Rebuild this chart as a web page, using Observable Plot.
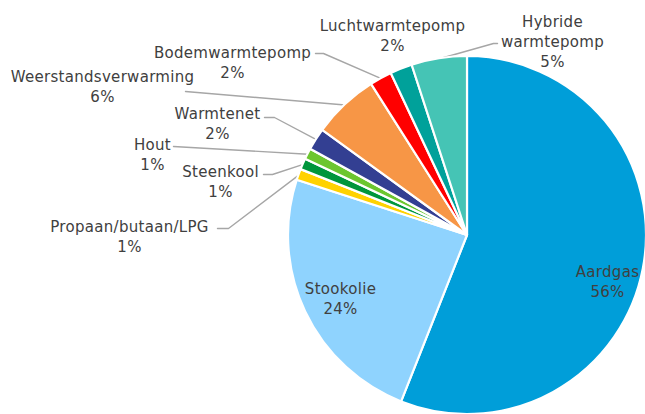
<!DOCTYPE html>
<html>
<head>
<meta charset="utf-8">
<script src="https://cdn.jsdelivr.net/npm/d3@7"></script>
<script src="https://cdn.jsdelivr.net/npm/@observablehq/plot@0.6"></script>
<style>
  html, body { margin: 0; padding: 0; background: #fff; }
  #chart svg { display: block; }
</style>
</head>
<body>
<div id="chart"></div>
<script>
// ---- data ----
const categories = ["Aardgas", "Stookolie", "Propaan/butaan/LPG", "Steenkool", "Hout", "Warmtenet",
  "Weerstandsverwarming", "Bodemwarmtepomp", "Luchtwarmtepomp", "Hybride warmtepomp"];
const shares = [56, 24, 1, 1, 1, 2, 6, 2, 2, 5];
const labelNames = ["Aardgas", "Stookolie", "Propaan/butaan/LPG", "Steenkool", "Hout", "Warmtenet",
  "Weerstandsverwarming", "Bodemwarmtepomp", "Luchtwarmtepomp", "Hybride\nwarmtepomp"];
const colors = ["#009ed9", "#8fd3fe", "#ffd200", "#00963c", "#6cc62f", "#333f92",
  "#f79646", "#ff0000", "#00a19a", "#45c4b5"];

// ---- layout (pixel space) ----
const W = 645, H = 414;
const center = [467, 235];
const radius = 179;
// label block centres
const labelPos = {
  "Aardgas": [607, 280],
  "Stookolie": [340, 297],
  "Propaan/butaan/LPG": [129, 235],
  "Steenkool": [220, 180],
  "Hout": [152, 153],
  "Warmtenet": [217, 122],
  "Weerstandsverwarming": [102, 85],
  "Bodemwarmtepomp": [232, 61],
  "Luchtwarmtepomp": [392, 34],
  "Hybride warmtepomp": [552, 40]
};
// leader start points on label side (polyline before reaching the slice)
const leaderStart = {
  "Propaan/butaan/LPG": [[217, 228], [228, 228]],
  "Steenkool": [[263, 174], [272, 174]],
  "Hout": [[173, 146]],
  "Warmtenet": [[264, 117], [274, 117]],
  "Weerstandsverwarming": [[185, 91]],
  "Bodemwarmtepomp": [[315, 53], [323, 53]],
  "Hybride warmtepomp": [[497, 43], [493, 43]]
};

const rows = categories.map((c, i) => ({name: c, label: labelNames[i], value: shares[i], color: colors[i]}));
const arcs = d3.pie().sort(null).value(d => d.value)(rows);

// leader rows
const leaderRows = [];
arcs.forEach(a => {
  const s = leaderStart[a.data.name];
  if (!s) return;
  const mid = (a.startAngle + a.endAngle) / 2;
  const end = [center[0] + radius * Math.sin(mid), center[1] - radius * Math.cos(mid)];
  [...s, end].forEach((p, k) => leaderRows.push({name: a.data.name, x: p[0], y: p[1], k}));
});

const labelRows = rows.map(r => ({
  text: r.label + "\n" + r.value + "%",
  x: labelPos[r.name][0],
  y: labelPos[r.name][1]
}));

const pieMark = (index, scales) => {
  const g = d3.create("svg:g");
  const cx = scales.x(center[0]), cy = scales.y(center[1]);
  const r = scales.x(center[0] + radius) - cx;
  const arc = d3.arc().innerRadius(0).outerRadius(r);
  g.attr("transform", `translate(${cx},${cy})`)
    .selectAll("path").data(arcs).join("path")
    .attr("d", arc)
    .attr("fill", d => d.data.color)
    .attr("stroke", "#fff")
    .attr("stroke-width", 2.2)
    .attr("stroke-linejoin", "round");
  return g.node();
};

const chart = Plot.plot({
  width: W,
  height: H,
  margin: 0,
  x: {domain: [0, W], range: [0, W], axis: null},
  y: {domain: [0, H], range: [0, H], axis: null},
  style: {fontFamily: "DejaVu Sans, sans-serif", background: "#fff", letterSpacing: "0.3px"},
  marks: [
    Plot.line(leaderRows, {x: "x", y: "y", z: "name", stroke: "#a6a6a6", strokeWidth: 1.4}),
    pieMark,
    Plot.text(labelRows, {x: "x", y: "y", text: "text", fill: "#404040", fontSize: 15,
      lineHeight: 1.35, textAnchor: "middle", lineAnchor: "middle"})
  ]
});
document.getElementById("chart").appendChild(chart);
</script>
</body>
</html>
